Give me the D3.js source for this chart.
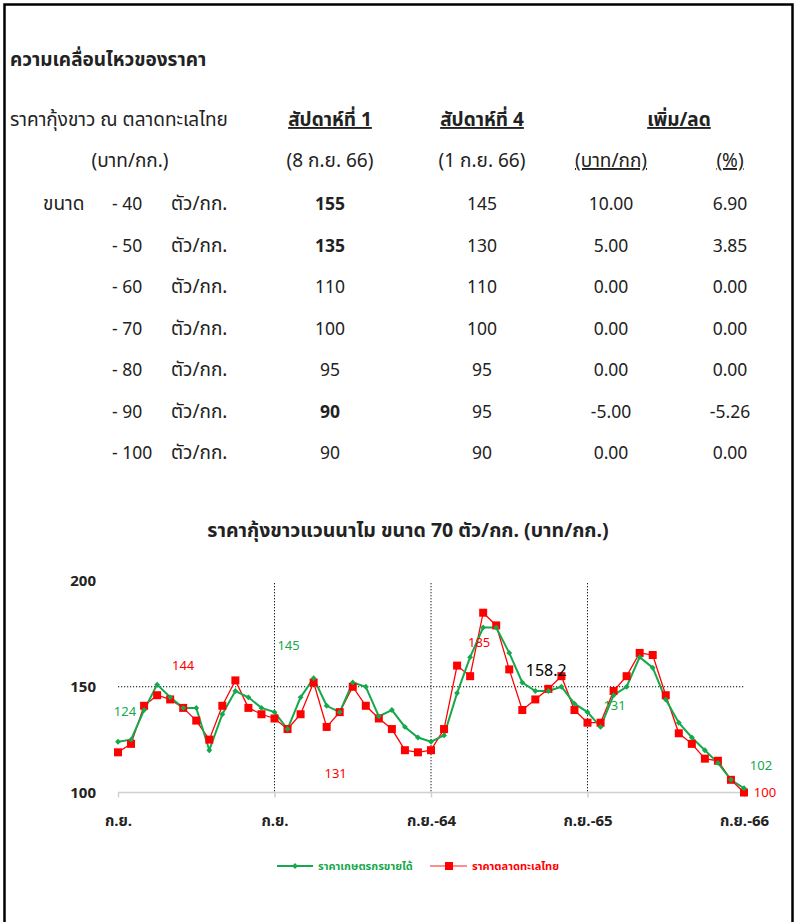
<!DOCTYPE html>
<html>
<head>
<meta charset="utf-8">
<style>
body { margin: 0; background: #fff; }
text { font-family: Tahoma, "Noto Sans Thai", "Noto Sans", sans-serif; }
.tbl { font-size: 19px; fill: #222; }
.num { font-size: 17.5px; }
.bold { font-weight: 700; }
</style>
</head>
<body>
<script src="https://cdn.jsdelivr.net/npm/d3@7"></script>
<script>
// table data
var sizes = ["- 40", "- 50", "- 60", "- 70", "- 80", "- 90", "- 100"];
var week1 = [155, 135, 110, 100, 95, 90, 90];
var week1Bold = [true, true, false, false, false, true, false];
var week4 = [145, 130, 110, 100, 95, 95, 90];
var diffBaht = ["10.00", "5.00", "0.00", "0.00", "0.00", "-5.00", "0.00"];
var diffPct = ["6.90", "3.85", "0.00", "0.00", "0.00", "-5.26", "0.00"];

// chart data (monthly, ก.ย. 62 -> ก.ย. 66)
var farmPrice = [124, 125, 139, 151, 145, 140, 140, 120, 137, 148, 145, 140, 138, 130, 145,
  154, 141, 138, 152, 150, 136, 139, 131, 126, 124, 127, 147, 164, 178, 178, 166, 152, 148,
  148, 150, 142, 138, 131, 146, 150, 164, 159, 144, 133, 126, 120, 114, 106, 102];
var marketPrice = [119, 123, 141, 146, 144, 140, 134, 125, 141, 153, 140, 137, 135, 130, 137,
  152, 131, 138, 150, 141, 135, 130, 120, 119, 120, 130, 160, 155, 185, 179, 158.2, 139, 144,
  149, 155, 139, 133, 133, 148, 155, 166, 165, 146, 128, 123, 116, 115, 106, 100];
var tickIdx = [0, 12, 24, 36, 48];
var tickLabels = ["ก.ย.", "ก.ย.", "ก.ย.-64", "ก.ย.-65", "ก.ย.-66"];
var yTicks = [100, 150, 200];

var green = "#16a84c", red = "#ff0000";

var svg = d3.select("body").append("svg")
    .attr("width", 795).attr("height", 922);

svg.append("rect").attr("x", 0).attr("y", 0).attr("width", 795).attr("height", 922).attr("fill", "#fff");
svg.append("path").attr("d", "M4.5,930V4.5H792.5V930")
    .attr("fill", "none").attr("stroke", "#000").attr("stroke-width", 2.5);

// ---- table ----
var t = svg.append("g").attr("class", "tbl");
t.append("text").attr("class", "bold").attr("x", 10).attr("y", 66)
  .text("ความเคลื่อนไหวของราคา");
t.append("text").attr("x", 10).attr("y", 126).text("ราคากุ้งขาว ณ ตลาดทะเลไทย");
t.append("text").attr("x", 130).attr("y", 167).attr("text-anchor", "middle").text("(บาท/กก.)");

var colX = [330, 482, 611, 730];
var heads = [[330, "สัปดาห์ที่ 1", 126, true], [482, "สัปดาห์ที่ 4", 126, true], [679, "เพิ่ม/ลด", 126, true],
  [330, "(8 ก.ย. 66)", 167, false], [482, "(1 ก.ย. 66)", 167, false],
  [611, "(บาท/กก)", 167, "u"], [730, "(%)", 167, "u"]];
heads.forEach(function(h) {
  t.append("text").attr("x", h[0]).attr("y", h[2]).attr("text-anchor", "middle")
    .attr("class", h[3] === true ? "bold" : null)
    .style("text-decoration", h[3] ? "underline" : null)
    .text(h[1]);
});

var rowY = d3.scalePoint().domain(sizes).range([210, 459]);
t.append("text").attr("x", 43).attr("y", rowY(sizes[0])).text("ขนาด");
sizes.forEach(function(s, i) {
  var y = rowY(s);
  t.append("text").attr("class", "num").attr("x", 112).attr("y", y).text(s);
  t.append("text").attr("x", 171).attr("y", y).text("ตัว/กก.");
  t.append("text").attr("x", colX[0]).attr("y", y).attr("text-anchor", "middle")
    .attr("class", week1Bold[i] ? "num bold" : "num").text(week1[i]);
  t.append("text").attr("class", "num").attr("x", colX[1]).attr("y", y).attr("text-anchor", "middle").text(week4[i]);
  t.append("text").attr("class", "num").attr("x", colX[2]).attr("y", y).attr("text-anchor", "middle").text(diffBaht[i]);
  t.append("text").attr("class", "num").attr("x", colX[3]).attr("y", y).attr("text-anchor", "middle").text(diffPct[i]);
});

// ---- chart ----
svg.append("text").attr("x", 408).attr("y", 537).attr("text-anchor", "middle")
  .style("font-size", "19.5px").style("font-weight", 700).attr("fill", "#222")
  .text("ราคากุ้งขาวแวนนาไม ขนาด 70 ตัว/กก. (บาท/กก.)");

var x = d3.scaleLinear().domain([0, 48]).range([118, 744]);
var y = d3.scaleLinear().domain([100, 200]).range([792.5, 581]);

// reference lines
svg.append("line").attr("x1", x(0)).attr("x2", x(48)).attr("y1", y(150)).attr("y2", y(150))
  .attr("stroke", "#000").attr("stroke-dasharray", "1.2,1.8");
[12, 24, 36].forEach(function(i) {
  svg.append("line").attr("x1", x(i)).attr("x2", x(i)).attr("y1", y(199)).attr("y2", y(100))
    .attr("stroke", "#000").attr("stroke-dasharray", "1.2,1.8");
});

// y axis labels
svg.selectAll(".ylab").data(yTicks).enter().append("text")
  .attr("x", 96).attr("y", function(d) { return y(d) + 5; }).attr("text-anchor", "end")
  .style("font-size", "15px").style("font-weight", 700).attr("fill", "#222")
  .text(function(d) { return d; });

// x axis
var xAxis = svg.append("g").attr("transform", "translate(0," + y(100) + ")")
  .call(d3.axisBottom(x).tickValues(tickIdx).tickSize(5).tickFormat(function(d, i) { return tickLabels[i]; }));
xAxis.select(".domain").attr("stroke", "#d0d0d0").attr("stroke-width", 1.5).attr("d", "M" + x(0) + ",0H" + x(48));
xAxis.selectAll(".tick line").attr("stroke", "#d0d0d0").attr("stroke-width", 1.5);
xAxis.selectAll(".tick text").attr("y", 23).attr("fill", "#222")
  .style("font-size", "15px").style("font-weight", 700)
  .style("font-family", 'Tahoma, "Noto Sans Thai", "Noto Sans", sans-serif');

var line = d3.line().x(function(d, i) { return x(i); }).y(function(d) { return y(d); });

svg.append("path").datum(marketPrice).attr("d", line)
  .attr("fill", "none").attr("stroke", red).attr("stroke-width", 1.3);
svg.append("path").datum(farmPrice).attr("d", line)
  .attr("fill", "none").attr("stroke", green).attr("stroke-width", 2);

svg.selectAll(".sq").data(marketPrice).enter().append("rect")
  .attr("x", function(d, i) { return x(i) - 4; }).attr("y", function(d) { return y(d) - 4; })
  .attr("width", 8).attr("height", 8).attr("fill", red);
svg.selectAll(".dm").data(farmPrice).enter().append("path")
  .attr("d", d3.symbol(d3.symbolDiamond2, 22))
  .attr("transform", function(d, i) { return "translate(" + x(i) + "," + y(d) + ")"; })
  .attr("fill", green);

// data labels: [series, index, dx, dy, colour]
var labels = [
  [farmPrice, 0, 7, -26, green], [marketPrice, 4, 13, -29, red], [farmPrice, 14, -12, -47, green],
  [marketPrice, 16, 9, 51, red], [marketPrice, 28, -4, 34, red], [marketPrice, 30, 37, 7, "#000"],
  [farmPrice, 37, 14, -17, green], [farmPrice, 48, 17, -18, green], [marketPrice, 48, 21, 4, red]
];
labels.forEach(function(l) {
  var v = l[0][l[1]];
  svg.append("text").attr("x", x(l[1]) + l[2]).attr("y", y(v) + l[3])
    .attr("text-anchor", "middle").attr("fill", l[4])
    .style("font-size", l[4] === "#000" ? "16px" : "13px")
    .text(v % 1 ? v.toFixed(1) : Math.round(v));
});

// legend
var lg = svg.append("g").attr("transform", "translate(0,866)");
lg.append("line").attr("x1", 277).attr("x2", 313).attr("stroke", green).attr("stroke-width", 2);
lg.append("path").attr("d", d3.symbol(d3.symbolDiamond2, 22)).attr("transform", "translate(295,0)").attr("fill", green);
lg.append("text").attr("x", 318).attr("y", 4).attr("fill", green).style("font-size", "11px").style("font-weight", 700)
  .text("ราคาเกษตรกรขายได้");
lg.append("line").attr("x1", 430).attr("x2", 467).attr("stroke", red).attr("stroke-opacity", 0.6).attr("stroke-width", 1.3);
lg.append("rect").attr("x", 445).attr("y", -4).attr("width", 8).attr("height", 8).attr("fill", red);
lg.append("text").attr("x", 472).attr("y", 4).attr("fill", red).style("font-size", "11px").style("font-weight", 700)
  .text("ราคาตลาดทะเลไทย");
</script>
</body>
</html>
